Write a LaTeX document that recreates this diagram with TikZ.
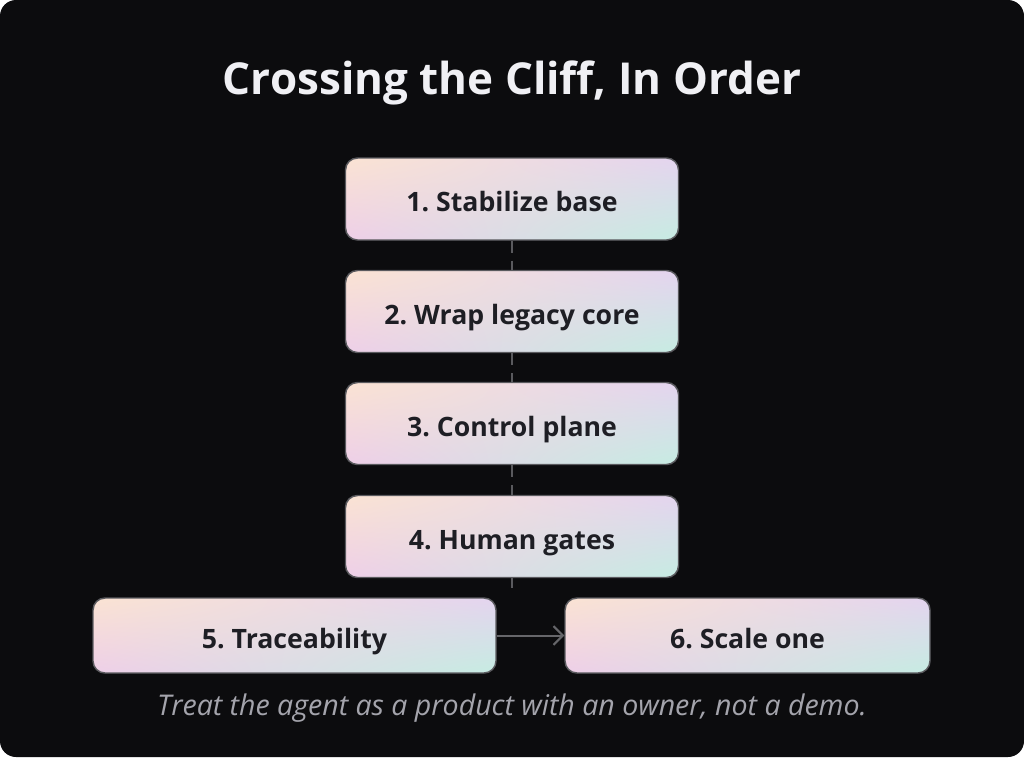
\documentclass[tikz,border=0pt]{standalone}
\usepackage{fontspec}
\setmainfont{Open Sans}
\usetikzlibrary{arrows.meta,shadings}
\definecolor{pageBg}{HTML}{0C0C0E}
\definecolor{titleFg}{HTML}{F0F0F4}
\definecolor{boxFg}{HTML}{1E1E24}
\definecolor{boxEdge}{HTML}{5A5A5E}
\definecolor{linkGray}{HTML}{5A5A5E}
\definecolor{arrowGray}{HTML}{66666A}
\definecolor{noteFg}{HTML}{A4A4AC}
\definecolor{gradPeach}{HTML}{FAE3D3}
\definecolor{gradLilac}{HTML}{E4D4EF}
\definecolor{gradPink}{HTML}{EECFE8}
\definecolor{gradMint}{HTML}{C6ECE2}
\frenchspacing
\begin{document}
\begin{tikzpicture}[x=0.75pt,y=-0.75pt]
      \tikzstyle{stepbox} = [
        rectangle,
        rounded corners=9pt,
        draw=boxEdge,
        line width=1.1pt,
        upper left=gradPeach,
        upper right=gradLilac,
        lower left=gradPink,
        lower right=gradMint,
        text=boxFg,
        font=\fontsize{20}{24}\selectfont\bfseries,
        text height=21pt,
        text depth=2pt,
        minimum width=249.75pt,
        minimum height=61.5pt,
      ]
      \tikzstyle{widebox} = [stepbox, minimum height=56.25pt]

      \tikzstyle{dashlink} = [draw=linkGray, line width=1.5pt, dash pattern=on 9pt off 6pt]
      \tikzstyle{arrow} = [draw=arrowGray, line width=1.5pt, -{Straight Barb[length=7pt,width=14pt]}]

      % frame
      \fill[white] (0,0) rectangle (1024,757);
      \fill[pageBg, rounded corners=12pt] (0,0) rectangle (1024,757);
      \useasboundingbox (0,0) rectangle (1024,757);

      % title
      \node[text=titleFg, font=\fontsize{33}{40}\selectfont\bfseries] (title) at (512,83) {Crossing the Cliff, In Order};

      % vertical steps
      \node[stepbox] (step1) at (512,199) {1. Stabilize base};
      \node[stepbox] (step2) at (512,311.5) {2. Wrap legacy core};
      \node[stepbox] (step3) at (512,423.5) {3. Control plane};
      \node[stepbox] (step4) at (512,536.5) {4. Human gates};

      % bottom row
      \node[widebox, minimum width=302.25pt] (step5) at (294.5,635.5) {5. Traceability};
      \node[widebox, minimum width=273.75pt] (step6) at (747.5,635.5) {6. Scale one};

      % links
      \draw[dashlink] (step1.south) -- (step2.north);
      \draw[dashlink] (step2.south) -- (step3.north);
      \draw[dashlink] (step3.south) -- (step4.north);
      \coordinate (step4tail) at ([yshift=-7.5pt] step4.south);
      \draw[dashlink] (step4.south) -- (step4tail);
      \draw[arrow] (step5.east) -- (step6.west);

      % note
      \node[text=noteFg, font=\fontsize{21.4}{26}\selectfont\itshape] (note) at (512,708) {Treat the agent as a product with an owner, not a demo.};
    \end{tikzpicture}
\end{document}
